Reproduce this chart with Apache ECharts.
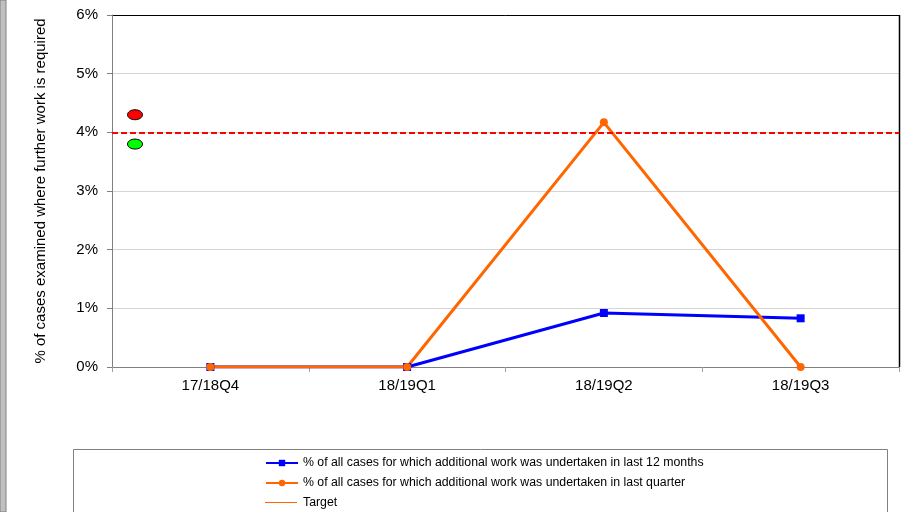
<!DOCTYPE html>
<html><head><meta charset="utf-8">
<script src="https://cdn.jsdelivr.net/npm/echarts@6/dist/echarts.min.js"></script>
<style>html,body{margin:0;padding:0;background:#fff}#c{width:915px;height:512px}</style>
</head><body><div id="c"></div>
<script>
const categories = ['17/18Q4','18/19Q1','18/19Q2','18/19Q3'];
const last12Months = [0, 0, 0.92, 0.83];
const lastQuarter = [0, 0, 4.17, 0];
const targetValue = 4;
const ragRed = 4.3, ragGreen = 3.8;
const yTicks = [0,1,2,3,4,5,6];
const names = ['% of all cases for which additional work was undertaken in last 12 months',
               '% of all cases for which additional work was undertaken in last quarter',
               'Target'];

const chart = echarts.init(document.getElementById('c'));
const font = 'Liberation Sans, Arial, sans-serif';
chart.setOption({
  animation:false,
  textStyle:{fontFamily:font},
  grid:{left:112,top:15,width:787,height:352},
  xAxis:{type:'category',data:categories,boundaryGap:true,
    axisLine:{lineStyle:{color:'#808080',width:1}},
    axisTick:{show:true,length:5,lineStyle:{color:'#a0a0a0'}},
    axisLabel:{color:'#000',fontSize:15,fontFamily:font,margin:11}},
  yAxis:{type:'value',min:yTicks[0],max:yTicks[yTicks.length-1],interval:1,
    name:'% of cases examined where further work is required',nameLocation:'middle',nameGap:64,
    nameTextStyle:{color:'#000',fontSize:15,fontFamily:font},
    axisLine:{show:true,lineStyle:{color:'#808080'}},
    axisTick:{show:true,length:5,lineStyle:{color:'#808080'}},
    splitLine:{lineStyle:{color:'#d4d4d4'}},
    axisLabel:{color:'#000',fontSize:15,fontFamily:font,margin:14,formatter:v=>v+'%'}},
  legend:{orient:'vertical',left:260,top:452,height:100,itemWidth:32,itemHeight:8,itemGap:8,
    textStyle:{fontSize:12.3,fontFamily:font,color:'#000'},
    data:[{name:names[0]},{name:names[1]},{name:names[2],icon:'none'}]},
  series:[
    {name:names[0],type:'line',data:last12Months,symbol:'rect',symbolSize:8,
     lineStyle:{color:'#0000ff',width:3},itemStyle:{color:'#0000ff'}},
    {name:names[1],type:'line',data:lastQuarter,symbol:'circle',symbolSize:8,
     lineStyle:{color:'#ff6600',width:3},itemStyle:{color:'#ff6600'}},
    {name:names[2],type:'line',data:[],symbol:'none',
     lineStyle:{color:'#ff6600',width:1},itemStyle:{color:'#ff6600'},
     markLine:{silent:true,symbol:'none',label:{show:false},
       lineStyle:{color:'#ff0000',type:[6,3],width:2},
       data:[{yAxis:targetValue}]}}
  ]
});
const yR = chart.convertToPixel({yAxisIndex:0}, ragRed);
const yG = chart.convertToPixel({yAxisIndex:0}, ragGreen);
chart.setOption({graphic:[
  {type:'rect',shape:{x:0,y:0,width:6,height:512},style:{fill:'#c0c0c0',stroke:'#808080',lineWidth:1}},
  {type:'rect',shape:{x:73.5,y:449.5,width:814,height:80},style:{fill:'none',stroke:'#808080',lineWidth:1}},
  {type:'line',shape:{x1:112,y1:15.5,x2:899.5,y2:15.5},style:{stroke:'#000',lineWidth:1}},
  {type:'line',shape:{x1:899.5,y1:15,x2:899.5,y2:367},style:{stroke:'#000',lineWidth:1.5}},
  {type:'line',shape:{x1:265,y1:502.5,x2:297,y2:502.5},style:{stroke:'#ff6600',lineWidth:1}},
  {type:'ellipse',shape:{cx:135,cy:yR,rx:7.5,ry:5},style:{fill:'#ff0000',stroke:'#000',lineWidth:1}},
  {type:'ellipse',shape:{cx:135,cy:yG,rx:7.5,ry:5},style:{fill:'#00ff00',stroke:'#000',lineWidth:1}}
]});
</script></body></html>
